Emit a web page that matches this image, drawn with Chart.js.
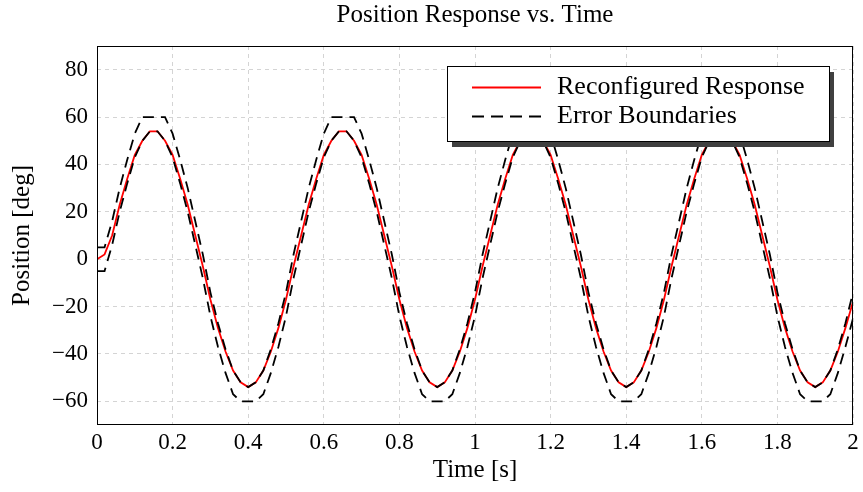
<!DOCTYPE html>
<html>
<head>
<meta charset="utf-8">
<script src="https://cdn.jsdelivr.net/npm/chart.js@4.4.0/dist/chart.umd.min.js"></script>
<style>
  html, body { margin: 0; padding: 0; background: #fff; }
  #wrap { width: 863px; height: 492px; }
</style>
</head>
<body>
<div id="wrap"><canvas id="chart" width="863" height="492"></canvas></div>
<script>
// Sample times [s]
const times = [
  0, 0.02, 0.04, 0.06, 0.08, 0.1, 0.12, 0.14, 0.16, 0.18,
  0.2, 0.22, 0.24, 0.26, 0.28, 0.3, 0.32, 0.34, 0.36, 0.38,
  0.4, 0.42, 0.44, 0.46, 0.48, 0.5, 0.52, 0.54, 0.56, 0.58,
  0.6, 0.62, 0.64, 0.66, 0.68, 0.7, 0.72, 0.74, 0.76, 0.78,
  0.8, 0.82, 0.84, 0.86, 0.88, 0.9, 0.92, 0.94, 0.96, 0.98,
  1, 1.02, 1.04, 1.06, 1.08, 1.1, 1.12, 1.14, 1.16, 1.18,
  1.2, 1.22, 1.24, 1.26, 1.28, 1.3, 1.32, 1.34, 1.36, 1.38,
  1.4, 1.42, 1.44, 1.46, 1.48, 1.5, 1.52, 1.54, 1.56, 1.58,
  1.6, 1.62, 1.64, 1.66, 1.68, 1.7, 1.72, 1.74, 1.76, 1.78,
  1.8, 1.82, 1.84, 1.86, 1.88, 1.9, 1.92, 1.94, 1.96, 1.98,
  2
];

// Reconfigured response [deg]
const response = [
  0, 2, 10, 23, 34, 44, 50, 54, 54, 50,
  44, 34, 23, 10, -3, -17, -29, -39, -47, -52,
  -54, -52, -47, -39, -29, -17, -3, 10, 23, 34,
  44, 50, 54, 54, 50, 44, 34, 23, 10, -3,
  -17, -29, -39, -47, -52, -54, -52, -47, -39, -29,
  -17, -3, 10, 23, 34, 44, 50, 54, 54, 50,
  44, 34, 23, 10, -3, -17, -29, -39, -47, -52,
  -54, -52, -47, -39, -29, -17, -3, 10, 23, 34,
  44, 50, 54, 54, 50, 44, 34, 23, 10, -3,
  -17, -29, -39, -47, -52, -54, -52, -47, -39, -29,
  -18
];

// Error boundaries [deg]
const upperBound = [
  5, 5, 16, 30, 42, 53, 60, 60, 60, 60,
  53, 42, 30, 16, 2, -14, -27, -38, -47, -52,
  -54, -52, -47, -38, -27, -14, 2, 16, 30, 42,
  53, 60, 60, 60, 60, 53, 42, 30, 16, 2,
  -14, -27, -38, -47, -52, -54, -52, -47, -38, -27,
  -14, 2, 16, 30, 42, 53, 60, 60, 60, 60,
  53, 42, 30, 16, 2, -14, -27, -38, -47, -52,
  -54, -52, -47, -38, -27, -14, 2, 16, 30, 42,
  53, 60, 60, 60, 60, 53, 42, 30, 16, 2,
  -14, -27, -38, -47, -52, -54, -52, -47, -38, -27,
  -14
];
const lowerBound = [
  -5, -5, 6, 20, 32, 43, 50, 54, 54, 50,
  43, 32, 20, 6, -8, -24, -37, -48, -57, -60,
  -60, -60, -57, -48, -37, -24, -8, 6, 20, 32,
  43, 50, 54, 54, 50, 43, 32, 20, 6, -8,
  -24, -37, -48, -57, -60, -60, -60, -57, -48, -37,
  -24, -8, 6, 20, 32, 43, 50, 54, 54, 50,
  43, 32, 20, 6, -8, -24, -37, -48, -57, -60,
  -60, -60, -57, -48, -37, -24, -8, 6, 20, 32,
  43, 50, 54, 54, 50, 43, 32, 20, 6, -8,
  -24, -37, -48, -57, -60, -60, -60, -57, -48, -37,
  -25
];

const xTicks = [0, 0.2, 0.4, 0.6, 0.8, 1, 1.2, 1.4, 1.6, 1.8, 2];
const xTickLabels = ['0', '0.2', '0.4', '0.6', '0.8', '1', '1.2', '1.4', '1.6', '1.8', '2'];
const yTicks = [-60, -40, -20, 0, 20, 40, 60, 80];
const yTickLabels = ['\u221260', '\u221240', '\u221220', '0', '20', '40', '60', '80'];

const SERIF = '"Liberation Serif", "DejaVu Serif", serif';
const DASH = [11, 7];

function points(ys) {
  return times.map((t, i) => ({ x: t, y: ys[i] }));
}

// Title, axis labels, frame and legend with shadow (pgfplots look)
const decor = {
  id: 'decor',
  afterDraw(chart) {
    const ctx = chart.ctx;
    const a = chart.chartArea;
    ctx.save();

    // frame
    ctx.strokeStyle = '#000';
    ctx.lineWidth = 1;
    ctx.strokeRect(a.left + 0.5, a.top + 0.5, a.right - a.left - 1, a.bottom - a.top - 1);

    ctx.fillStyle = '#000';
    ctx.textAlign = 'center';
    ctx.textBaseline = 'middle';
    ctx.font = '25px ' + SERIF;
    ctx.fillText('Position Response vs. Time', (a.left + a.right) / 2, 15);
    ctx.fillText('Time [s]', (a.left + a.right) / 2, 470);

    ctx.save();
    ctx.translate(22, (a.top + a.bottom) / 2);
    ctx.rotate(-Math.PI / 2);
    ctx.fillText('Position [deg]', 0, 0);
    ctx.restore();

    // legend
    const lx = 447, ly = 66, lw = 382, lh = 75;
    ctx.fillStyle = '#404040';
    ctx.fillRect(lx + 5, ly + 6, lw, lh);
    ctx.fillStyle = '#fff';
    ctx.fillRect(lx, ly, lw, lh);
    ctx.strokeStyle = '#000';
    ctx.lineWidth = 1;
    ctx.strokeRect(lx + 0.5, ly + 0.5, lw, lh);

    ctx.lineWidth = 1.8;
    ctx.strokeStyle = '#ff0000';
    ctx.beginPath();
    ctx.moveTo(472, 87.5);
    ctx.lineTo(541, 87.5);
    ctx.stroke();

    ctx.strokeStyle = '#000';
    ctx.setLineDash([12, 7]);
    ctx.beginPath();
    ctx.moveTo(472, 116.5);
    ctx.lineTo(541, 116.5);
    ctx.stroke();
    ctx.setLineDash([]);

    ctx.fillStyle = '#000';
    ctx.textAlign = 'left';
    ctx.font = '26px ' + SERIF;
    ctx.fillText('Reconfigured Response', 557, 87);
    ctx.fillText('Error Boundaries', 557, 116);

    ctx.restore();
  }
};

new Chart(document.getElementById('chart'), {
  type: 'line',
  data: {
    datasets: [
      {
        label: 'Reconfigured Response',
        data: points(response),
        borderColor: '#ff0000',
        borderWidth: 1.8,
        pointRadius: 0,
        tension: 0,
        order: 3
      },
      {
        label: 'Error Boundaries',
        data: points(upperBound),
        borderColor: '#000000',
        borderWidth: 1.8,
        borderDash: DASH,
        pointRadius: 0,
        tension: 0,
        order: 1
      },
      {
        label: 'Error Boundaries (lower)',
        data: points(lowerBound),
        borderColor: '#000000',
        borderWidth: 1.8,
        borderDash: DASH,
        pointRadius: 0,
        tension: 0,
        order: 2
      }
    ]
  },
  options: {
    responsive: false,
    animation: false,
    devicePixelRatio: 1,
    layout: { padding: { top: 46, right: 10, left: 0, bottom: 0 } },
    plugins: {
      legend: { display: false },
      title: { display: false },
      tooltip: { enabled: false }
    },
    scales: {
      x: {
        type: 'linear',
        min: 0,
        max: 2,
        afterBuildTicks: s => { s.ticks = xTicks.map(v => ({ value: v })); },
        afterFit: s => { s.height = 67; },
        ticks: {
          color: '#000',
          padding: 4,
          maxRotation: 0,
          autoSkip: false,
          font: { family: SERIF, size: 23 },
          callback: (v, i) => xTickLabels[i]
        },
        grid: { color: '#d4d4d4', drawTicks: false, lineWidth: 1 },
        border: { display: false, dash: [4, 4] }
      },
      y: {
        type: 'linear',
        min: -70,
        max: 90,
        afterBuildTicks: s => { s.ticks = yTicks.map(v => ({ value: v })); },
        afterFit: s => { s.width = 97; },
        ticks: {
          color: '#000',
          padding: 9,
          autoSkip: false,
          font: { family: SERIF, size: 23 },
          callback: (v, i) => yTickLabels[i]
        },
        grid: { color: '#d4d4d4', drawTicks: false, lineWidth: 1 },
        border: { display: false, dash: [4, 4] }
      }
    }
  },
  plugins: [decor]
});
</script>
</body>
</html>
